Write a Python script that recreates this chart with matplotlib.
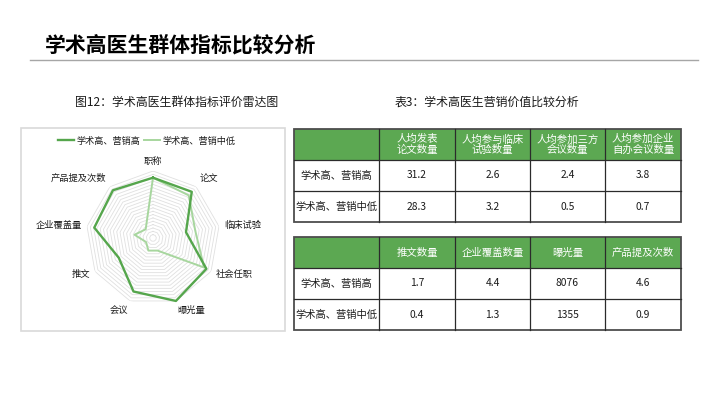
import numpy as np
import matplotlib
matplotlib.use("Agg")
import matplotlib.pyplot as plt
from matplotlib.patches import Rectangle
from matplotlib.lines import Line2D

plt.rcParams["font.family"] = ["Noto Sans CJK SC", "DejaVu Sans"]

W, H = 710, 399

# ---------------- data ----------------
TITLE = "学术高医生群体指标比较分析"
RADAR_TITLE = "图12：学术高医生群体指标评价雷达图"
TABLE_TITLE = "表3：学术高医生营销价值比较分析"

RADAR_AXES = ["职称", "论文", "临床试验", "社会任职", "曝光量",
              "会议", "推文", "企业覆盖量", "产品提及次数"]
SERIES_NAMES = ["学术高、营销高", "学术高、营销中低"]
HIGH_VALUES = [0.90, 0.90, 0.50, 0.92, 1.00, 0.85, 0.59, 0.89, 0.93]
LOW_VALUES = [0.90, 0.83, 0.64, 0.88, 0.20, 0.20, 0.12, 0.28, 0.17]

ROW_LABELS = ["学术高、营销高", "学术高、营销中低"]
TABLE1_HEADERS = ["人均发表\n论文数量", "人均参与临床\n试验数量",
                  "人均参加三方\n会议数量", "人均参加企业\n自办会议数量"]
TABLE1_HIGH = [31.2, 2.6, 2.4, 3.8]
TABLE1_LOW = [28.3, 3.2, 0.5, 0.7]
TABLE2_HEADERS = ["推文数量", "企业覆盖数量", "曝光量", "产品提及次数"]
TABLE2_HIGH = [1.7, 4.4, 8076, 4.6]
TABLE2_LOW = [0.4, 1.3, 1355, 0.9]

DARK_GREEN = "#55a64c"
LIGHT_GREEN = "#a7d69e"
HEADER_GREEN = "#5ca852"
TEXT = "#1a1a1a"

fig = plt.figure(figsize=(W / 100, H / 100), dpi=100)
fig.patch.set_facecolor("white")

# background axes in pixel units
bg = fig.add_axes([0, 0, 1, 1])
bg.set_xlim(0, W)
bg.set_ylim(H, 0)
bg.axis("off")

bg.text(45, 45, TITLE, fontsize=15, fontweight="bold", va="center", ha="left",
        color="black")
bg.plot([30, 698], [60, 60], color="#a6a6a6", lw=1.0)
bg.text(177, 102, RADAR_TITLE, fontsize=8.6, ha="center", va="center", color=TEXT)
bg.text(487, 102, TABLE_TITLE, fontsize=8.6, ha="center", va="center", color=TEXT)

# radar panel frame
bg.add_patch(Rectangle((21, 128), 264, 203, facecolor="white",
                       edgecolor="#d9d9d9", lw=1.2))


def fmt(v):
    return f"{v:g}"


def draw_table(top, headers, high, low):
    xs = [294, 379, 455, 530, 605, 681]
    row_h = 31
    ys = [top + i * row_h for i in range(4)]
    bg.add_patch(Rectangle((xs[0], ys[0]), xs[-1] - xs[0], row_h,
                           facecolor=HEADER_GREEN, edgecolor="none"))
    for j, h in enumerate(headers):
        cx = (xs[j + 1] + xs[j + 2]) / 2
        bg.text(cx, ys[0] + row_h / 2, h, ha="center", va="center",
                fontsize=7.5, color="white", linespacing=1.05)
    for i, (lab, vals) in enumerate(zip(ROW_LABELS, [high, low])):
        cy = ys[i + 1] + row_h / 2
        bg.text((xs[0] + xs[1]) / 2, cy, lab, ha="center", va="center",
                fontsize=7.4, color=TEXT)
        for j, v in enumerate(vals):
            bg.text((xs[j + 1] + xs[j + 2]) / 2, cy, fmt(v), ha="center",
                    va="center", fontsize=7.4, color=TEXT)
    for y in ys[1:3]:
        bg.plot([xs[0], xs[-1]], [y, y], color="#2b2b2b", lw=0.9)
    for x in xs[1:-1]:
        bg.plot([x, x], [ys[0], ys[-1]], color="#2b2b2b", lw=0.9)
    bg.add_patch(Rectangle((xs[0], ys[0]), xs[-1] - xs[0], ys[-1] - ys[0],
                           facecolor="none", edgecolor="#4d4d4d", lw=1.3))


draw_table(129, TABLE1_HEADERS, TABLE1_HIGH, TABLE1_LOW)
draw_table(237, TABLE2_HEADERS, TABLE2_HIGH, TABLE2_LOW)

# ---------------- radar ----------------
cx, cy, rad = 153, 238, 67
ax = fig.add_axes([(cx - rad) / W, (H - cy - rad) / H, 2 * rad / W, 2 * rad / H],
                  projection="polar")
ax.set_theta_zero_location("N")
ax.set_theta_direction(-1)
ax.set_ylim(0, 1)
ax.set_facecolor("none")
ax.grid(False)
ax.spines["polar"].set_visible(False)
ax.set_xticks([])
ax.set_yticks([])

n = len(RADAR_AXES)
theta = np.linspace(0, 2 * np.pi, n, endpoint=False)
theta_c = np.append(theta, theta[0])

for lvl in np.linspace(0.05, 1.0, 20):
    ax.plot(theta_c, np.full(n + 1, lvl), color="#e0e0e0", lw=0.6, zorder=1)

ax.plot(theta_c, LOW_VALUES + LOW_VALUES[:1], color=LIGHT_GREEN, lw=1.4,
        zorder=3, clip_on=False)
ax.plot(theta_c, HIGH_VALUES + HIGH_VALUES[:1], color=DARK_GREEN, lw=1.7,
        zorder=4, clip_on=False)

for t, lab in zip(theta, RADAR_AXES):
    s, c = np.sin(t), np.cos(t)
    ha = "left" if s > 0.1 else ("right" if s < -0.1 else "center")
    va = "bottom" if c > 0.6 else ("top" if c < -0.6 else "center")
    ax.text(t, 1.08, lab, ha=ha, va=va, fontsize=6.7, color=TEXT,
            clip_on=False)

handles = [Line2D([], [], color=DARK_GREEN, lw=1.7),
           Line2D([], [], color=LIGHT_GREEN, lw=1.4)]
fig.legend(handles, SERIES_NAMES, loc="center",
           bbox_to_anchor=(147 / W, 1 - 141 / H), ncol=2, frameon=False,
           fontsize=6.6, handlelength=1.7, handletextpad=0.3,
           columnspacing=0.4, borderpad=0, labelcolor=TEXT)

fig.savefig("out.png", dpi=100)
